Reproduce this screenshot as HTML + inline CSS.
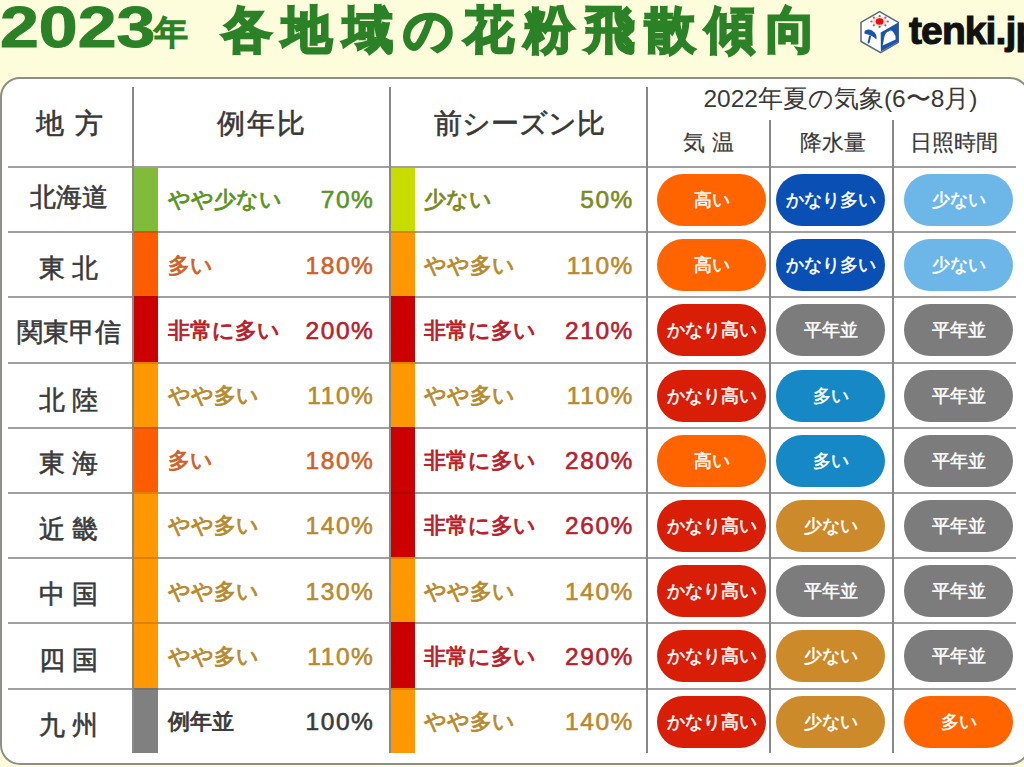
<!DOCTYPE html>
<html><head><meta charset="utf-8">
<style>
*{margin:0;padding:0;box-sizing:border-box}
html,body{width:1024px;height:767px;overflow:hidden;background:#fdfddc;font-family:"Liberation Sans",sans-serif}
.a{position:absolute;white-space:nowrap}
#tbl{position:absolute;left:0;top:77px;width:1030px;height:688px;border:2px solid #8e8e88;border-radius:20px;background:#fff}
.hl{position:absolute;height:2px;background:#a0a0a0}
.vl{position:absolute;width:2px;background:#888}
.hd{position:absolute;color:#383838;font-size:28px;line-height:30px;text-align:center;white-space:nowrap;-webkit-text-stroke:0.6px #383838}
.sh{position:absolute;color:#383838;font-size:22px;line-height:24px;text-align:center;white-space:nowrap;-webkit-text-stroke:0.2px #383838}
.rn{position:absolute;color:#3a3a3a;font-size:25.5px;line-height:28px;text-align:center;white-space:nowrap;-webkit-text-stroke:0.6px #3a3a3a}
.bar{position:absolute;width:24px}
.t{position:absolute;font-size:22px;line-height:24px;white-space:nowrap;-webkit-text-stroke:0.9px currentColor}
.p{position:absolute;font-size:24.5px;line-height:26px;white-space:nowrap;text-align:right;letter-spacing:1.6px;-webkit-text-stroke:0.6px currentColor}
.pill{position:absolute;width:109px;height:52px;border-radius:26px;color:#fff;font-size:17.5px;text-align:center;line-height:52px;white-space:nowrap;-webkit-text-stroke:0.5px #fff}
</style></head><body>

<div class="a" style="left:0px;top:-6px;font-size:57px;font-weight:bold;color:#2b8226;transform:scaleX(1.225);transform-origin:0 0;-webkit-text-stroke:1px #2b8226">2023</div>
<div class="a" style="left:154px;top:10px;font-size:34px;color:#2b8226;-webkit-text-stroke:2px #2b8226">年</div>
<div class="a" style="left:222px;top:-3px;font-size:50px;letter-spacing:10.3px;color:#2b8226;-webkit-text-stroke:4px #2b8226">各地域の花粉飛散傾向</div>
<svg class="a" style="left:855px;top:5px" width="50" height="53" viewBox="0 0 50 53">
<path d="M6 17.3 L24.6 6.7 L43.3 17.3 L43.3 37.3 L25.6 47.6 L6 36.5 Z" fill="#fff" stroke="#5a6878" stroke-width="1.5" stroke-linejoin="round"/>
<path d="M25.7 27.6 L43.3 17.6 L43.3 36.8 L25.9 46.6 Z" fill="#1a55a8"/>
<path d="M27.7 40.4 L29.3 32 Q30.5 27 33.5 26.5 Q36 24.2 38.6 27.4 Q40.9 30 40.6 34.6 Z" fill="#fff"/>
<path d="M9.4 28.6 Q9 25.5 12 24.8 Q16 23.8 19.6 27.5 Q22 30 21.5 34.5 Q18.5 31.5 16.7 30.9 Q14 29.8 9.4 28.6 Z" fill="#1a55a8"/>
<path d="M15 31.5 L13.6 37.6" stroke="#1a55a8" stroke-width="2" stroke-linecap="round"/>
<ellipse cx="24.6" cy="16.5" rx="7.5" ry="5" fill="#ffd8d8"/>
<circle cx="32.80" cy="16.50" r="1.1" fill="#b05858"/><circle cx="30.40" cy="20.35" r="1.1" fill="#b05858"/><circle cx="24.60" cy="21.95" r="1.1" fill="#b05858"/><circle cx="18.80" cy="20.35" r="1.1" fill="#b05858"/><circle cx="16.40" cy="16.50" r="1.1" fill="#b05858"/><circle cx="18.80" cy="12.65" r="1.1" fill="#b05858"/><circle cx="24.60" cy="11.05" r="1.1" fill="#b05858"/><circle cx="30.40" cy="12.65" r="1.1" fill="#b05858"/>
<ellipse cx="24.6" cy="16.5" rx="3.9" ry="3.2" fill="#e01010"/>
</svg>
<div class="a" style="left:909px;top:8px;font-size:39px;line-height:45px;font-weight:bold;color:#111;letter-spacing:-0.9px;-webkit-text-stroke:1.1px #111">tenki.jp</div>
<div id="tbl"></div>
<div class="hl" style="left:8px;width:1008px;top:166px"></div>
<div class="hl" style="left:8px;width:1008px;top:231px"></div>
<div class="hl" style="left:8px;width:1008px;top:296px"></div>
<div class="hl" style="left:8px;width:1008px;top:362px"></div>
<div class="hl" style="left:8px;width:1008px;top:427px"></div>
<div class="hl" style="left:8px;width:1008px;top:492px"></div>
<div class="hl" style="left:8px;width:1008px;top:557px"></div>
<div class="hl" style="left:8px;width:1008px;top:622px"></div>
<div class="hl" style="left:8px;width:1008px;top:688px"></div>
<div class="vl" style="left:132px;top:87px;height:666px"></div>
<div class="vl" style="left:389px;top:87px;height:666px"></div>
<div class="vl" style="left:646px;top:87px;height:666px"></div>
<div class="vl" style="left:769px;top:120px;height:633px"></div>
<div class="vl" style="left:892px;top:120px;height:633px"></div>
<div class="hd" style="left:2px;width:137px;top:109px;letter-spacing:2px">地 方</div>
<div class="hd" style="left:134px;width:256px;top:109px;letter-spacing:2px">例年比</div>
<div class="hd" style="left:391px;width:256px;top:109px">前シーズン比</div>
<div class="sh" style="left:653px;width:375px;top:86px;font-size:24.5px;line-height:26px;-webkit-text-stroke:0">2022年夏の気象(6〜8月)</div>
<div class="sh" style="left:648px;width:121px;top:131px">気 温</div>
<div class="sh" style="left:772px;width:122px;top:131px">降水量</div>
<div class="sh" style="left:893px;width:122px;top:131px">日照時間</div>
<div class="rn" style="left:0;width:137px;top:182.7px">北海道</div>
<div class="bar" style="left:134px;top:168px;height:63px;background:#80bc3a"></div>
<div class="t" style="left:168px;top:188.4px;color:#5a9424">やや少ない</div>
<div class="p" style="left:250px;width:124.5px;top:187.4px;color:#5a9424">70%</div>
<div class="bar" style="left:391px;top:168px;height:63px;background:#c8dc00"></div>
<div class="t" style="left:424px;top:188.4px;color:#7a8a20">少ない</div>
<div class="p" style="left:510px;width:124px;top:187.4px;color:#7a8a20">50%</div>
<div class="pill" style="left:657px;top:173.9px;background:#ff6400">高い</div>
<div class="pill" style="left:776px;top:173.9px;background:#0a4fb4">かなり多い</div>
<div class="pill" style="left:904px;top:173.9px;background:#6cb6e8">少ない</div>
<div class="rn" style="left:0;width:137px;top:253.7px">東 北</div>
<div class="bar" style="left:134px;top:231px;height:65px;background:#ff5c00"></div>
<div class="t" style="left:168px;top:253.6px;color:#cf6228">多い</div>
<div class="p" style="left:250px;width:124.5px;top:252.6px;color:#cf6228">180%</div>
<div class="bar" style="left:391px;top:231px;height:65px;background:#ff9800"></div>
<div class="t" style="left:424px;top:253.6px;color:#b88a2e">やや多い</div>
<div class="p" style="left:510px;width:124px;top:252.6px;color:#b88a2e">110%</div>
<div class="pill" style="left:657px;top:239.1px;background:#ff6400">高い</div>
<div class="pill" style="left:776px;top:239.1px;background:#0a4fb4">かなり多い</div>
<div class="pill" style="left:904px;top:239.1px;background:#6cb6e8">少ない</div>
<div class="rn" style="left:0;width:137px;top:318.2px">関東甲信</div>
<div class="bar" style="left:134px;top:296px;height:66px;background:#cc0000"></div>
<div class="t" style="left:168px;top:318.8px;color:#b8202c">非常に多い</div>
<div class="p" style="left:250px;width:124.5px;top:317.8px;color:#b8202c">200%</div>
<div class="bar" style="left:391px;top:296px;height:66px;background:#cc0000"></div>
<div class="t" style="left:424px;top:318.8px;color:#b8202c">非常に多い</div>
<div class="p" style="left:510px;width:124px;top:317.8px;color:#b8202c">210%</div>
<div class="pill" style="left:657px;top:304.3px;background:#d81e06">かなり高い</div>
<div class="pill" style="left:776px;top:304.3px;background:#7c7c7c">平年並</div>
<div class="pill" style="left:904px;top:304.3px;background:#7c7c7c">平年並</div>
<div class="rn" style="left:0;width:137px;top:385.5px">北 陸</div>
<div class="bar" style="left:134px;top:362px;height:65px;background:#ff9800"></div>
<div class="t" style="left:168px;top:384.0px;color:#b88a2e">やや多い</div>
<div class="p" style="left:250px;width:124.5px;top:383.0px;color:#b88a2e">110%</div>
<div class="bar" style="left:391px;top:362px;height:65px;background:#ff9800"></div>
<div class="t" style="left:424px;top:384.0px;color:#b88a2e">やや多い</div>
<div class="p" style="left:510px;width:124px;top:383.0px;color:#b88a2e">110%</div>
<div class="pill" style="left:657px;top:369.5px;background:#d81e06">かなり高い</div>
<div class="pill" style="left:776px;top:369.5px;background:#1688c6">多い</div>
<div class="pill" style="left:904px;top:369.5px;background:#7c7c7c">平年並</div>
<div class="rn" style="left:0;width:137px;top:449.4px">東 海</div>
<div class="bar" style="left:134px;top:427px;height:65px;background:#ff5c00"></div>
<div class="t" style="left:168px;top:449.2px;color:#cf6228">多い</div>
<div class="p" style="left:250px;width:124.5px;top:448.2px;color:#cf6228">180%</div>
<div class="bar" style="left:391px;top:427px;height:65px;background:#cc0000"></div>
<div class="t" style="left:424px;top:449.2px;color:#b8202c">非常に多い</div>
<div class="p" style="left:510px;width:124px;top:448.2px;color:#b8202c">280%</div>
<div class="pill" style="left:657px;top:434.7px;background:#ff6400">高い</div>
<div class="pill" style="left:776px;top:434.7px;background:#1688c6">多い</div>
<div class="pill" style="left:904px;top:434.7px;background:#7c7c7c">平年並</div>
<div class="rn" style="left:0;width:137px;top:515.1px">近 畿</div>
<div class="bar" style="left:134px;top:492px;height:65px;background:#ff9800"></div>
<div class="t" style="left:168px;top:514.4px;color:#b88a2e">やや多い</div>
<div class="p" style="left:250px;width:124.5px;top:513.4px;color:#b88a2e">140%</div>
<div class="bar" style="left:391px;top:492px;height:65px;background:#cc0000"></div>
<div class="t" style="left:424px;top:514.4px;color:#b8202c">非常に多い</div>
<div class="p" style="left:510px;width:124px;top:513.4px;color:#b8202c">260%</div>
<div class="pill" style="left:657px;top:499.9px;background:#d81e06">かなり高い</div>
<div class="pill" style="left:776px;top:499.9px;background:#cc8a2a">少ない</div>
<div class="pill" style="left:904px;top:499.9px;background:#7c7c7c">平年並</div>
<div class="rn" style="left:0;width:137px;top:580.2px">中 国</div>
<div class="bar" style="left:134px;top:557px;height:65px;background:#ff9800"></div>
<div class="t" style="left:168px;top:579.6px;color:#b88a2e">やや多い</div>
<div class="p" style="left:250px;width:124.5px;top:578.6px;color:#b88a2e">130%</div>
<div class="bar" style="left:391px;top:557px;height:65px;background:#ff9800"></div>
<div class="t" style="left:424px;top:579.6px;color:#b88a2e">やや多い</div>
<div class="p" style="left:510px;width:124px;top:578.6px;color:#b88a2e">140%</div>
<div class="pill" style="left:657px;top:565.1px;background:#d81e06">かなり高い</div>
<div class="pill" style="left:776px;top:565.1px;background:#7c7c7c">平年並</div>
<div class="pill" style="left:904px;top:565.1px;background:#7c7c7c">平年並</div>
<div class="rn" style="left:0;width:137px;top:645.9px">四 国</div>
<div class="bar" style="left:134px;top:622px;height:66px;background:#ff9800"></div>
<div class="t" style="left:168px;top:644.8px;color:#b88a2e">やや多い</div>
<div class="p" style="left:250px;width:124.5px;top:643.8px;color:#b88a2e">110%</div>
<div class="bar" style="left:391px;top:622px;height:66px;background:#cc0000"></div>
<div class="t" style="left:424px;top:644.8px;color:#b8202c">非常に多い</div>
<div class="p" style="left:510px;width:124px;top:643.8px;color:#b8202c">290%</div>
<div class="pill" style="left:657px;top:630.3px;background:#d81e06">かなり高い</div>
<div class="pill" style="left:776px;top:630.3px;background:#cc8a2a">少ない</div>
<div class="pill" style="left:904px;top:630.3px;background:#7c7c7c">平年並</div>
<div class="rn" style="left:0;width:137px;top:711.1px">九 州</div>
<div class="bar" style="left:134px;top:688px;height:65px;background:#808080"></div>
<div class="t" style="left:168px;top:710.0px;color:#3a3a3a">例年並</div>
<div class="p" style="left:250px;width:124.5px;top:709.0px;color:#3a3a3a">100%</div>
<div class="bar" style="left:391px;top:688px;height:65px;background:#ff9800"></div>
<div class="t" style="left:424px;top:710.0px;color:#b88a2e">やや多い</div>
<div class="p" style="left:510px;width:124px;top:709.0px;color:#b88a2e">140%</div>
<div class="pill" style="left:657px;top:695.5px;background:#d81e06">かなり高い</div>
<div class="pill" style="left:776px;top:695.5px;background:#cc8a2a">少ない</div>
<div class="pill" style="left:904px;top:695.5px;background:#ff6400">多い</div>
<div class="a" style="left:134px;width:24px;top:231px;height:2px;background:rgba(60,40,20,0.18)"></div>
<div class="a" style="left:391px;width:24px;top:231px;height:2px;background:rgba(60,40,20,0.18)"></div>
<div class="a" style="left:134px;width:24px;top:296px;height:2px;background:rgba(60,40,20,0.18)"></div>
<div class="a" style="left:391px;width:24px;top:296px;height:2px;background:rgba(60,40,20,0.18)"></div>
<div class="a" style="left:134px;width:24px;top:362px;height:2px;background:rgba(60,40,20,0.18)"></div>
<div class="a" style="left:391px;width:24px;top:362px;height:2px;background:rgba(60,40,20,0.18)"></div>
<div class="a" style="left:134px;width:24px;top:427px;height:2px;background:rgba(60,40,20,0.18)"></div>
<div class="a" style="left:391px;width:24px;top:427px;height:2px;background:rgba(60,40,20,0.18)"></div>
<div class="a" style="left:134px;width:24px;top:492px;height:2px;background:rgba(60,40,20,0.18)"></div>
<div class="a" style="left:391px;width:24px;top:492px;height:2px;background:rgba(60,40,20,0.18)"></div>
<div class="a" style="left:134px;width:24px;top:557px;height:2px;background:rgba(60,40,20,0.18)"></div>
<div class="a" style="left:391px;width:24px;top:557px;height:2px;background:rgba(60,40,20,0.18)"></div>
<div class="a" style="left:134px;width:24px;top:622px;height:2px;background:rgba(60,40,20,0.18)"></div>
<div class="a" style="left:391px;width:24px;top:622px;height:2px;background:rgba(60,40,20,0.18)"></div>
<div class="a" style="left:134px;width:24px;top:688px;height:2px;background:rgba(60,40,20,0.18)"></div>
<div class="a" style="left:391px;width:24px;top:688px;height:2px;background:rgba(60,40,20,0.18)"></div>
</body></html>
